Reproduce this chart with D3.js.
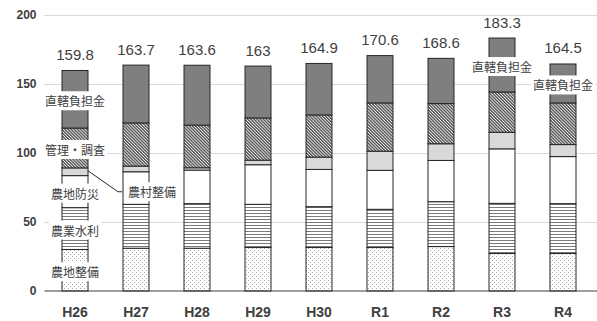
<!DOCTYPE html>
<html>
<head>
<meta charset="utf-8">
<script src="https://cdn.jsdelivr.net/npm/d3@7"></script>
<style>
  html, body { margin: 0; padding: 0; background: #fff; }
  svg { display: block; }
</style>
</head>
<body>
<svg id="chart" width="597" height="321"></svg>
<script>
// Fiscal years
const categories = ["H26", "H27", "H28", "H29", "H30", "R1", "R2", "R3", "R4"];

// Budget components (stacked bottom to top)
const seriesNames = ["農地整備", "農業水利", "農地防災", "農村整備", "管理・調査", "直轄負担金"];
const nouchiSeibi   = [30.1, 31.0, 31.0, 31.5, 31.5, 31.5, 32.2, 27.2, 27.2];
const nougyouSuiri  = [30.3, 31.8, 32.3, 31.3, 29.6, 27.7, 32.5, 36.3, 36.1];
const nouchiBousai  = [23.2, 23.6, 24.3, 28.7, 27.0, 28.2, 29.9, 39.5, 34.1];
const nousonSeibi   = [5.6, 4.1, 1.7, 3.3, 8.9, 13.9, 12.1, 12.0, 8.7];
const kanriChousa   = [28.9, 31.3, 30.9, 30.6, 30.6, 35.0, 29.1, 29.2, 30.2];
const chokkatsu     = [41.7, 41.9, 43.4, 37.6, 37.3, 34.3, 32.8, 39.1, 28.2];

// Totals shown above each bar
const totals = [159.8, 163.7, 163.6, 163, 164.9, 170.6, 168.6, 183.3, 164.5];

const yTicks = [0, 50, 100, 150, 200];

const seriesValues = [nouchiSeibi, nougyouSuiri, nouchiBousai, nousonSeibi, kanriChousa, chokkatsu];
const rows = categories.map((c, i) => {
  const r = { cat: c };
  seriesNames.forEach((s, k) => { r[s] = seriesValues[k][i]; });
  return r;
});

const W = 597, H = 321;
const plotLeft = 44.5, plotRight = 593.5, plotTop = 15, plotBottom = 291;

const svg = d3.select("#chart");

const x = d3.scaleBand().domain(categories).range([plotLeft, plotRight])
  .paddingInner(0.574).paddingOuter(0.287);
const y = d3.scaleLinear().domain([0, 200]).range([plotBottom, plotTop]);

// Fill patterns
const defs = svg.append("defs");

const dots = defs.append("pattern").attr("id", "pDots")
  .attr("patternUnits", "userSpaceOnUse").attr("width", 4).attr("height", 4);
dots.append("rect").attr("width", 4).attr("height", 4).attr("fill", "#fff");
dots.append("rect").attr("x", 0).attr("y", 0).attr("width", 1).attr("height", 1).attr("fill", "#a6a6a6");
dots.append("rect").attr("x", 2).attr("y", 2).attr("width", 1).attr("height", 1).attr("fill", "#a6a6a6");

const hlines = defs.append("pattern").attr("id", "pHLines")
  .attr("patternUnits", "userSpaceOnUse").attr("width", 6).attr("height", 3);
hlines.append("rect").attr("width", 6).attr("height", 3).attr("fill", "#fff");
hlines.append("rect").attr("y", 0).attr("width", 6).attr("height", 1).attr("fill", "#7a7a7a");

const diag = defs.append("pattern").attr("id", "pDiag")
  .attr("patternUnits", "userSpaceOnUse").attr("width", 2.2).attr("height", 4)
  .attr("patternTransform", "rotate(-45)");
diag.append("rect").attr("width", 2.2).attr("height", 4).attr("fill", "#f2f2f2");
diag.append("rect").attr("width", 1.3).attr("height", 4).attr("fill", "#4d4d4d");

const fills = ["url(#pDots)", "url(#pHLines)", "#ffffff", "#d9d9d9", "url(#pDiag)", "#7f7f7f"];

// Gridlines
svg.append("g")
  .attr("transform", `translate(${plotLeft},0)`)
  .call(d3.axisLeft(y).tickValues(yTicks.filter(t => t > 0)).tickSize(-(W - plotLeft)).tickFormat(""))
  .call(g => g.select(".domain").remove())
  .call(g => g.selectAll("line").attr("stroke", "#d9d9d9").attr("stroke-width", 1.2));

// Y tick labels
svg.append("g")
  .attr("transform", `translate(${plotLeft},0)`)
  .call(d3.axisLeft(y).tickValues(yTicks).tickSize(0).tickPadding(8))
  .call(g => g.select(".domain").remove())
  .call(g => g.selectAll("text")
    .attr("font-family", "'Liberation Sans', Arial, sans-serif")
    .attr("font-size", 12).attr("font-weight", "bold").attr("fill", "#404040"));

// Stacked bars
const stack = d3.stack().keys(seriesNames);
const layers = stack(rows);

svg.append("g").selectAll("g")
  .data(layers)
  .join("g")
  .attr("fill", (d, i) => fills[i])
  .selectAll("rect")
  .data(d => d)
  .join("rect")
  .attr("x", d => x(d.data.cat))
  .attr("y", d => y(d[1]))
  .attr("width", x.bandwidth())
  .attr("height", d => y(d[0]) - y(d[1]))
  .attr("stroke", "#262626")
  .attr("stroke-width", 1);

// Baseline and category labels
svg.append("g")
  .attr("transform", `translate(0,${plotBottom})`)
  .call(d3.axisBottom(x).tickSize(0).tickPadding(16))
  .call(g => g.select(".domain").attr("d", `M${plotLeft},0H${W}`).attr("stroke", "#404040").attr("stroke-width", 1.2))
  .call(g => g.selectAll("text")
    .attr("font-family", "'Liberation Sans', Arial, sans-serif")
    .attr("font-size", 14).attr("font-weight", "bold").attr("fill", "#404040"));

// Totals above bars
svg.append("g").selectAll("text")
  .data(totals)
  .join("text")
  .attr("x", (d, i) => x(categories[i]) + x.bandwidth() / 2)
  .attr("y", d => y(d) - 10.5)
  .attr("text-anchor", "middle")
  .attr("font-family", "'Liberation Sans', Arial, sans-serif")
  .attr("font-size", 15)
  .attr("fill", "#404040")
  .text(d => String(d));

// Series labels with white backing boxes
const jpFont = "'Noto Sans CJK JP', 'Noto Sans', sans-serif";
function boxedLabel(g, cx, cy, text) {
  const t = g.append("text")
    .attr("x", cx).attr("y", cy)
    .attr("text-anchor", "middle")
    .attr("dominant-baseline", "central")
    .attr("font-family", jpFont)
    .attr("font-size", 12)
    .attr("fill", "#404040")
    .text(text);
  const w = t.node().getComputedTextLength();
  g.insert("rect", () => t.node())
    .attr("x", cx - w / 2 - 2).attr("y", cy - 9.5)
    .attr("width", w + 4).attr("height", 19)
    .attr("fill", "#fff");
}

const labelG = svg.append("g");
const first = 0;
const cx0 = x(categories[first]) + x.bandwidth() / 2;
[0, 1, 2, 4, 5].forEach(k => {
  const seg = layers[k][first];
  boxedLabel(labelG.append("g"), cx0, y((seg[0] + seg[1]) / 2) + 1.5, seriesNames[k]);
});

// Top component label on R3 and R4
["R3", "R4"].forEach(c => {
  const i = categories.indexOf(c);
  const seg = layers[5][i];
  boxedLabel(labelG.append("g"), x(c) + x.bandwidth() / 2, y((seg[0] + seg[1]) / 2) + 1.5, seriesNames[5]);
});

// Callout for the thin 農村整備 segment
{
  const seg = layers[3][first];
  const x0 = x(categories[first]) + x.bandwidth();
  const y0 = y((seg[0] + seg[1]) / 2) - 1;
  const x1 = x0 + 30, y1 = y0 + 21;
  labelG.append("path")
    .attr("d", `M${x0},${y0}L${x1},${y1}H${x1 + 4}`)
    .attr("fill", "none").attr("stroke", "#262626").attr("stroke-width", 1);
  const g = labelG.append("g");
  boxedLabel(g, x1 + 34, y1, seriesNames[3]);
}
</script>
</body>
</html>
